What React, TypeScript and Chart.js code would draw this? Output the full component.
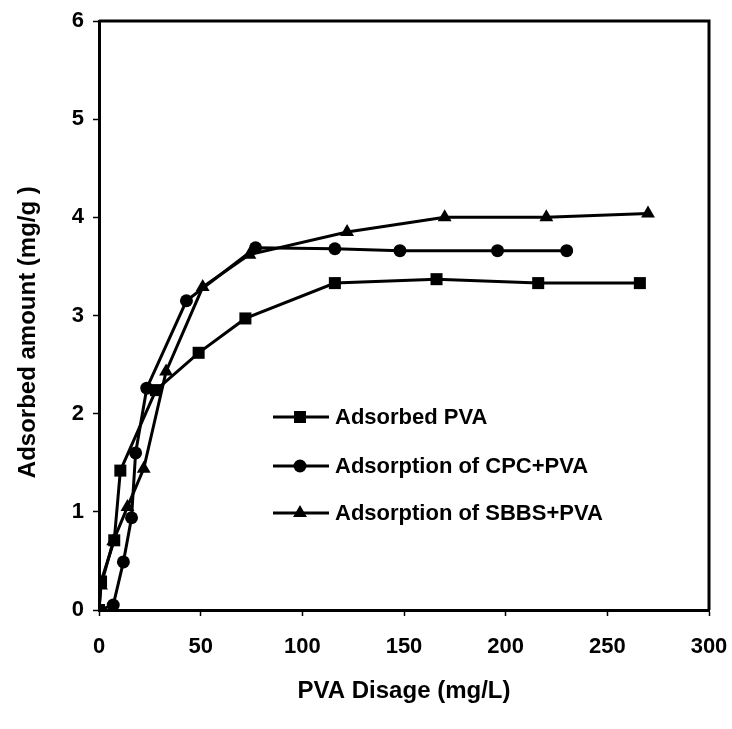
import React, { useEffect, useRef } from "react";
import { Chart, registerables } from "chart.js";

Chart.register(...registerables);

// ---- data ----
const seriesNames = ["Adsorbed PVA", "Adsorption of CPC+PVA", "Adsorption of SBBS+PVA"];
const pvaX = [0, 1, 7.5, 10.5, 28, 49, 72, 116, 166, 216, 266];
const pvaY = [0, 0.29, 0.71, 1.42, 2.24, 2.62, 2.97, 3.33, 3.37, 3.33, 3.33];
const cpcX = [0, 7, 12, 16, 18, 23.5, 43, 77, 116, 148, 196, 230];
const cpcY = [0, 0.05, 0.49, 0.94, 1.6, 2.26, 3.15, 3.69, 3.68, 3.66, 3.66, 3.66];
const sbbsX = [0, 1, 7, 14, 22, 33, 51, 74, 122, 170, 220, 270];
const sbbsY = [0, 0.25, 0.7, 1.05, 1.44, 2.43, 3.29, 3.62, 3.85, 4.0, 4.0, 4.04];
const xTicks = [0, 50, 100, 150, 200, 250, 300];
const yTicks = [0, 1, 2, 3, 4, 5, 6];
const xTitle = "PVA Disage (mg/L)";
const yTitle = "Adsorbed amount (mg/g )     ";

const FONT = "'Liberation Sans', Arial, Helvetica, sans-serif";
const markerStyles = ["rect", "circle", "triangle"];
const markerRadius = [8.5, 6.5, 8];

function toPoints(xs: number[], ys: number[]) {
  return xs.map((x, i) => ({ x, y: ys[i] }));
}

function drawMarker(ctx: CanvasRenderingContext2D, style: string, x: number, y: number, r: number) {
  ctx.beginPath();
  if (style === "rect") {
    const s = r * Math.SQRT1_2;
    ctx.rect(x - s, y - s, 2 * s, 2 * s);
  } else if (style === "circle") {
    ctx.arc(x, y, r, 0, Math.PI * 2);
  } else {
    for (let k = 0; k < 3; k++) {
      const a = (k * 2 * Math.PI) / 3;
      const px = x + Math.sin(a) * r;
      const py = y - Math.cos(a) * r;
      if (k === 0) ctx.moveTo(px, py);
      else ctx.lineTo(px, py);
    }
    ctx.closePath();
  }
  ctx.fill();
}

const frameAndLegend = {
  id: "frameAndLegend",
  afterDraw(chart: any) {
    const { ctx, chartArea } = chart;
    ctx.save();
    // top and right frame
    ctx.strokeStyle = "#000";
    ctx.lineWidth = 3;
    ctx.beginPath();
    ctx.moveTo(chartArea.left, chartArea.top);
    ctx.lineTo(chartArea.right, chartArea.top);
    ctx.lineTo(chartArea.right, chartArea.bottom);
    ctx.stroke();

    // legend inside plot
    const lx = chartArea.left + 174;
    const rowY = [chartArea.top + 396, chartArea.top + 445, chartArea.top + 492];
    ctx.font = `bold 22px ${FONT}`;
    ctx.textBaseline = "middle";
    ctx.textAlign = "left";
    ctx.fillStyle = "#000";
    seriesNames.forEach((name, i) => {
      const y = rowY[i];
      ctx.lineWidth = 3;
      ctx.beginPath();
      ctx.moveTo(lx, y);
      ctx.lineTo(lx + 56, y);
      ctx.stroke();
      drawMarker(ctx, markerStyles[i], lx + 27, y, markerRadius[i]);
      ctx.fillText(name, lx + 62, y + 1);
    });
    ctx.restore();
  },
};

export default function App() {
  const ref = useRef<HTMLCanvasElement>(null);

  useEffect(() => {
    const canvas = ref.current;
    if (!canvas) return;
    const dataSets = [
      toPoints(pvaX, pvaY),
      toPoints(cpcX, cpcY),
      toPoints(sbbsX, sbbsY),
    ];
    const chart = new Chart(canvas, {
      type: "line",
      data: {
        datasets: dataSets.map((d, i) => ({
          label: seriesNames[i],
          data: d,
          borderColor: "#000",
          backgroundColor: "#000",
          borderWidth: 3,
          pointStyle: markerStyles[i] as any,
          pointRadius: markerRadius[i],
          pointBackgroundColor: "#000",
          pointBorderColor: "#000",
          pointBorderWidth: 0,
          tension: 0,
          fill: false,
        })),
      },
      options: {
        animation: false,
        responsive: false,
        events: [],
        layout: { padding: { left: 0, top: 21, right: 23, bottom: 0 } },
        plugins: {
          legend: { display: false },
          tooltip: { enabled: false },
          title: { display: false },
        },
        scales: {
          x: {
            type: "linear",
            min: 0,
            max: 300,
            afterFit: (s: any) => {
              s.height = 119;
              s.paddingLeft = 0;
              s.paddingRight = 0;
            },
            afterBuildTicks: (s: any) => {
              s.ticks = xTicks.map((v) => ({ value: v }));
            },
            ticks: {
              color: "#000",
              padding: 18,
              maxRotation: 0,
              font: { family: FONT, size: 22, weight: "bold" },
            },
            grid: {
              display: true,
              drawOnChartArea: false,
              drawTicks: true,
              tickLength: 6,
              tickWidth: 1.5,
              tickColor: "#000",
            },
            border: { display: true, color: "#000", width: 3 },
            title: {
              display: true,
              text: xTitle,
              color: "#000",
              font: { family: FONT, size: 24, weight: "bold" },
              padding: { top: 0, bottom: 23 },
            },
          },
          y: {
            type: "linear",
            min: 0,
            max: 6,
            afterFit: (s: any) => {
              s.width = 99;
              s.paddingTop = 0;
              s.paddingBottom = 0;
            },
            afterBuildTicks: (s: any) => {
              s.ticks = yTicks.map((v) => ({ value: v }));
            },
            ticks: {
              color: "#000",
              padding: 9,
              font: { family: FONT, size: 22, weight: "bold" },
            },
            grid: {
              display: true,
              drawOnChartArea: false,
              drawTicks: true,
              tickLength: 6,
              tickWidth: 1.5,
              tickColor: "#000",
            },
            border: { display: true, color: "#000", width: 3 },
            title: {
              display: true,
              text: yTitle,
              color: "#000",
              font: { family: FONT, size: 24, weight: "bold" },
              padding: { top: 14, bottom: 0 },
            },
          },
        },
      },
      plugins: [frameAndLegend],
    });
    return () => chart.destroy();
  }, []);

  return (
    <div style={{ position: "fixed", left: 0, top: 0, width: 732, height: 729, background: "#fff" }}>
      <canvas ref={ref} width={732} height={729} style={{ display: "block" }} />
    </div>
  );
}
